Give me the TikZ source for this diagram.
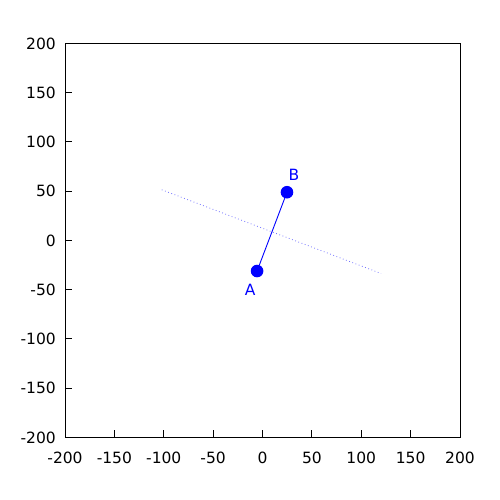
\documentclass[tikz,border=0pt]{standalone}
\usepackage{fontspec}
\setmainfont{DejaVu Sans}
\usetikzlibrary{calc}
\begin{document}
\begin{tikzpicture}[x=1pt,y=1pt,
  lbl/.style={font=\fontsize{15.5}{18}\selectfont, inner sep=0pt},
  pt/.style={circle, fill=blue, inner sep=0pt, minimum size=12.6pt},
  tk/.style={line width=1pt, black}]
\useasboundingbox (0,0) rectangle (500,500);
\begin{scope}[shift={(262.5,259.5)}, x=0.9875pt, y=0.985pt]
  % frame
  \draw[line width=1pt] (-200,-200) rectangle (200,200);
  % ticks and labels
  \foreach \v in {-200,-150,...,200} {
    \draw[tk] (\v,-200) -- ++(0,7pt);
    \node[lbl, anchor=center] at ($(\v,-200)+(0,-20.5pt)$) {\v};
    \draw[tk] (-200,\v) -- ++(7pt,0);
    \node[lbl, anchor=east] at ($(-200,\v)+(-9pt,0)$) {\v};
  }
  % dotted line
  \coordinate (P) at (-102,51.5);
  \coordinate (Q) at (120,-33.5);
  \draw[blue!55, line width=0.8pt, dash pattern=on 0.8pt off 2.6pt] (P) -- (Q);
  % points
  \node[pt] (A) at (-5.5,-31) {};
  \node[pt] (B) at (24.8,49) {};
  \draw[blue, line width=0.9pt] (A) -- (B);
  \node[lbl, text=blue] (la) at ($(A)+(-7pt,-19pt)$) {A};
  \node[lbl, text=blue] (lb) at ($(B)+(7pt,17pt)$) {B};
\end{scope}
\end{tikzpicture}
\end{document}
